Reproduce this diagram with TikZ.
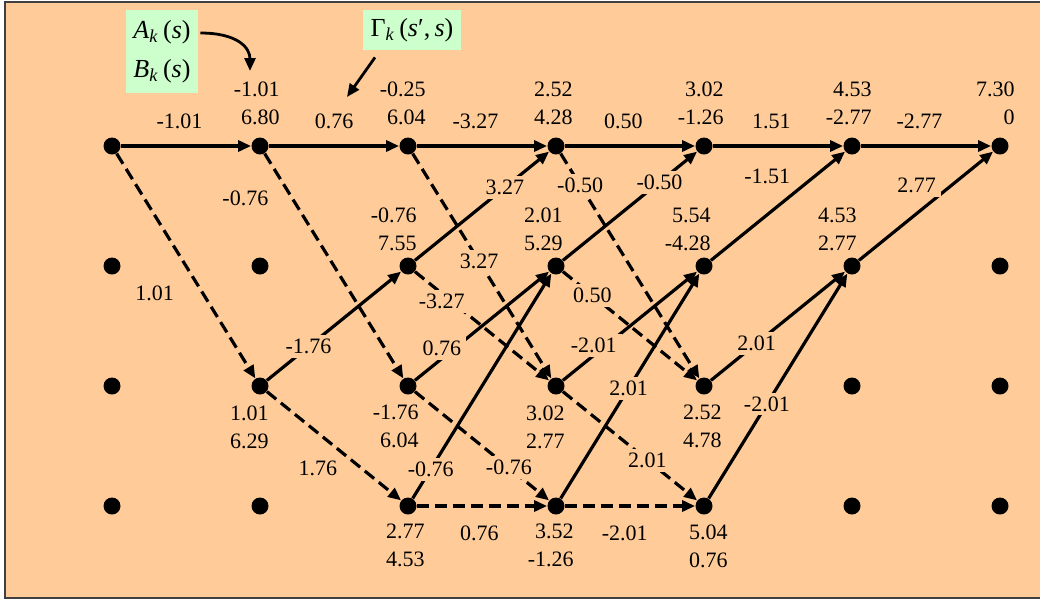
\documentclass[tikz,border=0pt]{standalone}
\usepackage{fontspec}
\setmainfont{Liberation Serif}
\usetikzlibrary{arrows.meta, calc}

\definecolor{peach}{RGB}{255,204,153}
\definecolor{mint}{RGB}{204,255,204}

\begin{document}
\begin{tikzpicture}[x=0.5pt, y=-0.5pt,
      font=\fontsize{11}{14}\selectfont,
      state/.style={circle, fill=black, inner sep=0pt, minimum size=8.5pt},
      arrow/.style={-{Triangle[length=6.5pt,width=5.5pt]}, line width=1.6pt},
      zarrow/.style={arrow, dash pattern=on 6pt off 3pt},
      metric/.style={fill=peach, inner xsep=2.5pt, inner ysep=2pt},
      val/.style={align=right, inner sep=0pt},
      note/.style={fill=mint, inner sep=0pt, font=\fontsize{13}{19.5}\selectfont}
    ]
    \useasboundingbox (0,0) rectangle (1040,601);
    \draw[fill=peach, draw=black!75, line width=1pt] (5,2) rectangle (1060,598);

    % trellis states
    \foreach \c in {0,...,6}
      \foreach \r in {0,...,3}
        \node[state] (n\c\r) at ({112+148*\c}, {146+120*\r}) {};

    % k = 1
    \draw[arrow] (n00) -- node[metric, pos=0.45, above=6pt] (m1) {-1.01} (n10);
    \draw[zarrow] (n00) -- node[metric, pos=0.62, xshift=-24pt] (m2) {1.01} (n12);

    % k = 2
    \draw[arrow] (n10) -- node[metric, pos=0.5, above=6pt] (m3) {0.76} (n20);
    \draw[zarrow] (n10) -- node[metric, pos=0.2, xshift=-23.5pt] (m4) {-0.76} (n22);
    \draw[arrow] (n12) -- node[metric, pos=0.31] (m5) {-1.76} (n21);
    \draw[zarrow] (n12) -- node[metric, pos=0.38, yshift=-17.5pt] (m6) {1.76} (n23);

    % k = 3
    \draw[arrow] (n20) -- node[metric, pos=0.45, above=6pt] (m7) {-3.27} (n30);
    \draw[zarrow] (n20) -- node[metric, pos=0.48] (m8) {3.27} (n32);
    \draw[arrow] (n21) -- node[metric, pos=0.67] (m9) {3.27} (n30);
    \draw[zarrow] (n21) -- node[metric, pos=0.2, yshift=-4pt] (m10) {-3.27} (n32);
    \draw[arrow] (n22) -- node[metric, pos=0.2, yshift=5pt] (m11) {0.76} (n31);
    \draw[zarrow] (n22) -- node[metric, pos=0.7] (m12) {-0.76} (n33);
    \draw[arrow] (n23) -- node[metric, pos=0.13] (m13) {-0.76} (n31);
    \draw[zarrow] (n23) -- node[metric, pos=0.48, below=7pt] (m14) {0.76} (n33);

    % k = 4
    \draw[arrow] (n30) -- node[metric, pos=0.45, above=6pt] (m15) {0.50} (n40);
    \draw[zarrow] (n30) -- node[metric, pos=0.14] (m16) {-0.50} (n42);
    \draw[arrow] (n31) -- node[metric, pos=0.72] (m17) {-0.50} (n40);
    \draw[zarrow] (n31) -- node[metric, pos=0.22] (m18) {0.50} (n42);
    \draw[arrow] (n32) -- node[metric, pos=0.23, yshift=5pt] (m19) {-2.01} (n41);
    \draw[zarrow] (n32) -- node[metric, pos=0.63] (m20) {2.01} (n43);
    \draw[arrow] (n33) -- node[metric, pos=0.49] (m21) {2.01} (n41);
    \draw[zarrow] (n33) -- node[metric, pos=0.46, below=7pt] (m22) {-2.01} (n43);

    % k = 5
    \draw[arrow] (n40) -- node[metric, pos=0.45, above=6pt] (m23) {1.51} (n50);
    \draw[arrow] (n41) -- node[metric, pos=0.42, yshift=19pt] (m24) {-1.51} (n50);
    \draw[arrow] (n42) -- node[metric, pos=0.34] (m25) {2.01} (n51);
    \draw[arrow] (n43) -- node[metric, pos=0.42] (m26) {-2.01} (n51);

    % k = 6
    \draw[arrow] (n50) -- node[metric, pos=0.45, above=6pt] (m27) {-2.77} (n60);
    \draw[arrow] (n51) -- node[metric, pos=0.43, yshift=14pt] (m28) {2.77} (n60);

    % forward / backward values
    \foreach \n/\dx/\txt in {10/20/{-1.01\\6.80}, 20/18/{-0.25\\6.04}, 30/17/{2.52\\4.28},
        40/20/{3.02\\-1.26}, 50/20/{4.53\\-2.77}, 60/15/{7.30\\0}}
      \node[val, anchor=south east] (v\n) at ($(n\n)+(\dx,-21)$) {\txt};
    \foreach \n/\dx/\txt in {21/9/{-0.76\\7.55}, 31/7/{2.01\\5.29}, 41/7/{5.54\\-4.28}, 51/5/{4.53\\2.77}}
      \node[val, anchor=south east] (v\n) at ($(n\n)+(\dx,-15)$) {\txt};
    \foreach \n/\dx/\txt in {12/9/{1.01\\6.29}, 22/11/{-1.76\\6.04}, 32/9/{3.02\\2.77}, 42/18/{2.52\\4.78}}
      \node[val, anchor=north east] (v\n) at ($(n\n)+(\dx,19)$) {\txt};
    \foreach \n/\dx/\txt in {23/17/{2.77\\4.53}, 33/18/{3.52\\-1.26}, 43/24/{5.04\\0.76}}
      \node[val, anchor=north east] (v\n) at ($(n\n)+(\dx,18)$) {\txt};

    % legend boxes
    \node[note, minimum width=36pt, minimum height=41.5pt, align=left] (ab) at (162,51.5)
      {\textit{A}\textsubscript{\textit{k}}\,(\textit{s})\\\textit{B}\textsubscript{\textit{k}}\,(\textit{s})};
    \node[note, minimum width=49pt, minimum height=20pt] (gam) at (412,30)
      {Γ\textsubscript{\textit{k}}\,(\textit{s}′,\,\textit{s})};
    \coordinate (ta) at (250,71);
    \coordinate (tg) at (347,97);
    \draw[arrow, line width=1.4pt] ([xshift=1pt, yshift=9.25pt]ab.east) .. controls (238,33) and (250,48) .. (ta);
    \draw[arrow, line width=1.4pt] ([xshift=-18.5pt, yshift=-3.5pt]gam.south) -- (tg);
  \end{tikzpicture}
\end{document}
